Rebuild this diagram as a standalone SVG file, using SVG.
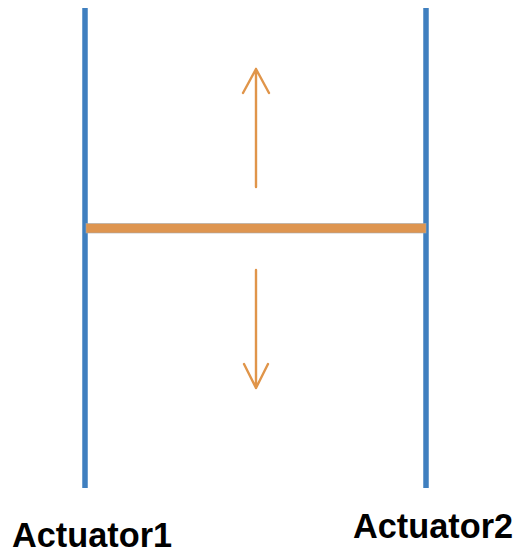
<svg xmlns="http://www.w3.org/2000/svg" width="519" height="553" viewBox="0 0 519 553">
<defs>
<style>
.act{stroke:#3F7FBF;stroke-width:5.5;fill:none}
.bar{fill:#DE9550;stroke:#A8A8A8;stroke-width:0.6}
.arr{stroke:#E0954A;stroke-width:2.4;fill:none;stroke-linecap:round;stroke-linejoin:round}
.lbl{font-family:"Liberation Sans",Arial,sans-serif;font-weight:bold;font-size:34.3px;fill:#000}
</style>
</defs>
<rect width="519" height="553" fill="#FFFFFF"/>
<g id="actuator1">
<line class="act" x1="85" y1="8" x2="85" y2="488"/>
<text class="lbl" x="12" y="547">Actuator1</text>
</g>
<g id="actuator2">
<line class="act" x1="426" y1="8" x2="426" y2="488"/>
<text class="lbl" x="353" y="538">Actuator2</text>
</g>
<g id="bar">
<rect class="bar" x="86" y="223.5" width="340" height="9.5"/>
</g>
<g id="connectors">
<path class="arr" d="M256,187 V69 M243,93 L256,69 L269,93"/>
<path class="arr" d="M256,270 V388 M244,364 L256,388 L268,364"/>
</g>
</svg>
